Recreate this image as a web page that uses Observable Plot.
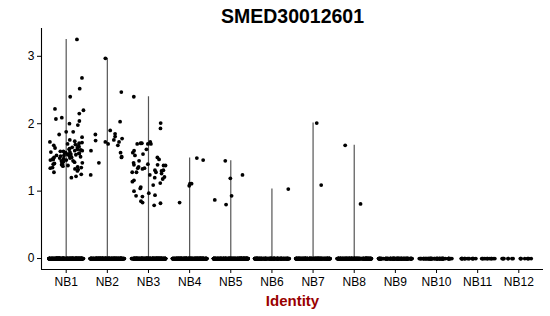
<!DOCTYPE html>
<html><head><meta charset="utf-8">
<script src="https://cdn.jsdelivr.net/npm/d3@7"></script>
<script src="https://cdn.jsdelivr.net/npm/@observablehq/plot@0.6"></script>
<style>body{margin:0;background:#fff}</style>
</head><body><div id="chart"></div>
<script>
const title = "SMED30012601";
const xLabel = "Identity";
const categories = ["NB1","NB2","NB3","NB4","NB5","NB6","NB7","NB8","NB9","NB10","NB11","NB12"];
const yTicks = [0, 1, 2, 3];
// number of cells with zero expression per identity
const zeroCounts = [300, 260, 260, 250, 250, 170, 210, 210, 130, 70, 28, 16];
// non-zero expression values per identity
const nb1 = [3.25,2.68,2.52,2.40,2.22,2.20,2.15,2.09,2.07,2.04,2.00,1.98,1.88,1.88,1.84,1.80,1.76,1.74,1.73,1.72,1.71,1.70,1.69,1.68,1.67,1.66,1.65,1.64,1.64,1.63,1.62,1.62,1.61,1.60,1.60,1.59,1.59,1.58,1.58,1.57,1.57,1.56,1.56,1.55,1.55,1.54,1.54,1.53,1.53,1.52,1.52,1.51,1.51,1.50,1.50,1.49,1.49,1.48,1.48,1.47,1.47,1.46,1.46,1.45,1.45,1.44,1.43,1.43,1.42,1.42,1.41,1.40,1.40,1.39,1.38,1.37,1.36,1.35,1.35,1.34,1.33,1.32,1.30,1.28,1.25,1.22,1.20];
const nb2 = [2.97,2.47,2.03,1.90,1.85,1.84,1.81,1.78,1.76,1.75,1.73,1.73,1.70,1.68,1.60,1.57,1.51,1.50,1.42,1.24];
const nb3 = [2.40,2.01,1.93,1.73,1.71,1.71,1.70,1.70,1.70,1.62,1.60,1.57,1.55,1.53,1.50,1.47,1.45,1.42,1.40,1.39,1.39,1.38,1.38,1.36,1.34,1.34,1.33,1.31,1.31,1.30,1.28,1.28,1.28,1.26,1.24,1.21,1.20,1.18,1.16,1.14,1.12,1.09,1.06,1.04,1.00,0.97,0.94,0.93,0.92,0.85,0.83,0.82,0.79];
const nb4 = [1.49,1.46,1.11,1.11,1.08,0.83];
const nb5 = [1.45,1.24,1.19,0.93,0.87,0.80];
const nb6 = [1.03];
const nb7 = [2.01,1.09];
const nb8 = [1.68,0.81];
const nb9 = [], nb10 = [], nb11 = [], nb12 = [];
const nonZero = [nb1,nb2,nb3,nb4,nb5,nb6,nb7,nb8,nb9,nb10,nb11,nb12];

// deterministic seeded jitter (position only), half-width 0.4 like geom_jitter
const cells = [];
categories.forEach((c, g) => {
  const rnd = d3.randomLcg(0.123 + g * 0.0713);
  const jit = () => (rnd() - 0.5) * 0.84;
  nonZero[g].forEach(v => cells.push({g, v, x: g + jit()}));
  for (let i = 0; i < zeroCounts[g]; i++) cells.push({g, v: 0, x: g + jit()});
});
const violins = categories.map((c, g) => ({g, max: nonZero[g].length ? d3.max(nonZero[g]) : 0})).filter(d => d.max > 0);

const yMax = d3.max(nonZero.flat());
const pad = yMax * 0.05;

const chart = Plot.plot({
  width: 550, height: 316,
  marginLeft: 41, marginRight: 7, marginTop: 28, marginBottom: 47,
  style: {fontFamily: "'Liberation Sans', Arial, Helvetica, sans-serif", background: "#fff", color: "#000"},
  x: {domain: [-0.6, categories.length - 1 + 0.6], label: null},
  y: {domain: [-pad, yMax + pad], label: null},
  marks: [
    Plot.ruleX(violins, {x: "g", y1: 0, y2: "max", stroke: "#555", strokeWidth: 1.2}),
    Plot.dot(cells, {x: "x", y: "v", r: 1.9, fill: "#000", stroke: "none"}),
    Plot.ruleX([-0.6], {stroke: "#000", strokeWidth: 1.1}),
    Plot.ruleY([-pad], {stroke: "#000", strokeWidth: 1.1}),
    Plot.axisX({ticks: d3.range(categories.length), tickFormat: i => categories[i], tickSize: 4, tickPadding: 4, fontSize: 12, label: null, stroke: "#000"}),
    Plot.axisY({ticks: yTicks, tickFormat: d3.format("d"), tickSize: 4, tickPadding: 3, fontSize: 12, label: null}),
    Plot.text([title], {frameAnchor: "top", lineAnchor: "bottom", dy: -6, fontSize: 19.5, fontWeight: "bold", fill: "#000"}),
    Plot.text([xLabel], {frameAnchor: "bottom", lineAnchor: "bottom", dy: 36, fontSize: 15, fontWeight: "bold", fill: "#990000"})
  ]
});
document.getElementById("chart").appendChild(chart);
</script>
</body></html>
